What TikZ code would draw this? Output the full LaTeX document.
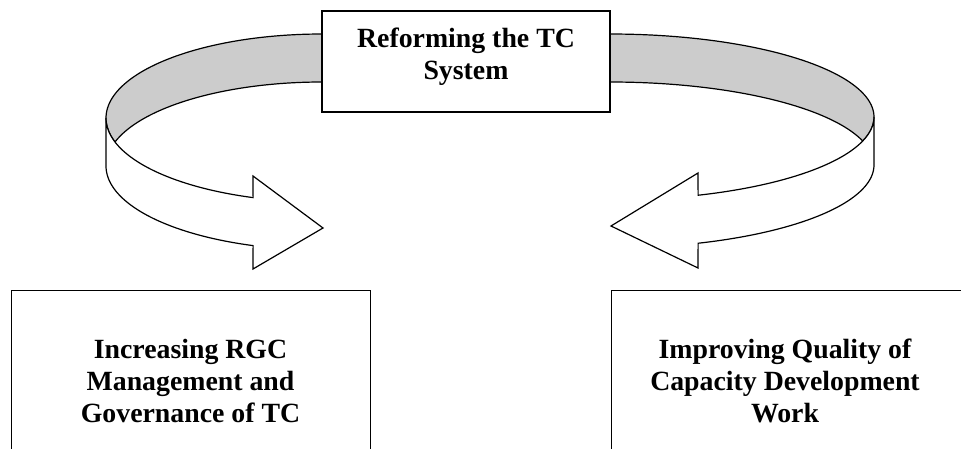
\documentclass[tikz,border=0pt]{standalone}
\usepackage{fontspec}
\setmainfont{Liberation Serif}
\definecolor{bandgray}{RGB}{204,204,204}
\begin{document}
\begin{tikzpicture}[x=1pt,y=-1pt,line width=1.2pt,line join=miter,
  boxnode/.style={draw, fill=white, rectangle, inner sep=0pt},
  txt/.style={font=\bfseries\fontsize{27.8}{32}\selectfont, align=center, inner sep=0pt},
  backband/.style={draw, fill=bandgray},
  frontband/.style={draw, fill=white}]
\useasboundingbox (0,0) rectangle (961,449);
\clip (0,0) rectangle (961,449);

% left ribbon: back (gray) part
\path[backband] plot[domain=90:196.6, samples=60] ({322+216*cos(\x)},{118-84*sin(\x)})
  -- plot[domain=163.4:90, samples=60] ({322+216*cos(\x)},{166-84*sin(\x)}) -- cycle;
% left ribbon: front (white) part with head
\path[frontband] plot[domain=180:251.4, samples=60] ({322+216*cos(\x)},{118-84*sin(\x)})
  -- (253,176) -- (323,228) -- (253,269)
  -- plot[domain=251.4:180, samples=60] ({322+216*cos(\x)},{166-84*sin(\x)}) -- cycle;

% right ribbon: back (gray) part
\path[backband] plot[domain=90:-16.8, samples=60] ({610+264*cos(\x)},{117-83*sin(\x)})
  -- plot[domain=16.8:90, samples=60] ({610+264*cos(\x)},{165-83*sin(\x)}) -- cycle;
% right ribbon: front (white) part with head
\path[frontband] plot[domain=0:-70.5, samples=60] ({610+264*cos(\x)},{117-83*sin(\x)})
  -- (698,173) -- (611,226) -- (698,268)
  -- plot[domain=-70.5:0, samples=60] ({610+264*cos(\x)},{165-83*sin(\x)}) -- cycle;

% boxes
\node[boxnode, minimum width=288pt, minimum height=101pt] (top) at (466,61.5) {};
\node[boxnode, minimum width=359pt, minimum height=200pt, anchor=north west] (left) at (11,290) {};
\node[boxnode, minimum width=400pt, minimum height=200pt, anchor=north west] (right) at (611,290) {};

% texts
\node[txt] (toptxt) at (466,56.8) {Reforming the TC\\System};
\node[txt] (lefttxt) at (190.5,381) {Increasing RGC\\Management and\\Governance of TC};
\node[txt] (righttxt) at (785,381) {Improving Quality of\\Capacity Development\\Work};
\end{tikzpicture}
\end{document}
